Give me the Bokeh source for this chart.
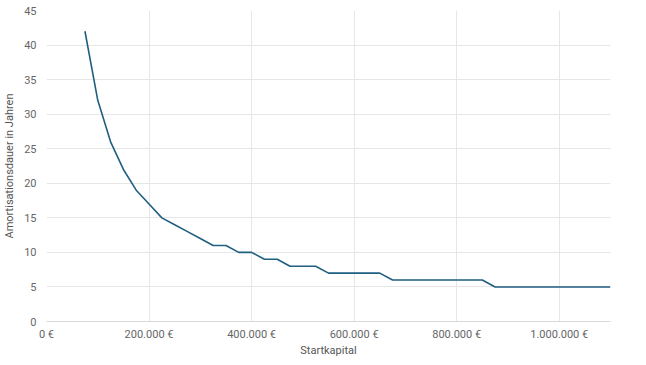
from bokeh.plotting import figure
from bokeh.models import FixedTicker, Range1d
from bokeh.embed import file_html
from bokeh.resources import INLINE

startkapital = [75000, 100000, 125000, 150000, 175000, 200000, 225000, 250000, 275000,
                300000, 325000, 350000, 375000, 400000, 425000, 450000, 475000, 500000,
                525000, 550000, 575000, 600000, 625000, 650000, 675000, 700000, 725000,
                750000, 775000, 800000, 825000, 850000, 875000, 900000, 925000, 950000,
                975000, 1000000, 1025000, 1050000, 1075000, 1100000]
dauer = [42, 32, 26, 22, 19, 17, 15, 14, 13,
         12, 11, 11, 10, 10, 9, 9, 8, 8,
         8, 7, 7, 7, 7, 7, 6, 6, 6,
         6, 6, 6, 6, 6, 5, 5, 5, 5,
         5, 5, 5, 5, 5, 5]
x_ticks = [0, 200000, 400000, 600000, 800000, 1000000]
x_tick_labels = ["0 €", "200.000 €", "400.000 €", "600.000 €", "800.000 €", "1.000.000 €"]
y_ticks = [0, 5, 10, 15, 20, 25, 30, 35, 40, 45]

p = figure(width=646, height=365, output_backend="svg", toolbar_location=None,
           x_range=Range1d(0, 1100000), y_range=Range1d(0, 45),
           min_border_left=10, min_border_right=36, min_border_top=10, min_border_bottom=44)
p.outline_line_color = None
p.background_fill_color = "white"

p.line(startkapital, dauer, line_color="#1f5f80", line_width=1.6)

font = "Roboto"
for ax in (p.xaxis[0], p.yaxis[0]):
    ax.major_tick_line_color = None
    ax.minor_tick_line_color = None
    ax.major_label_text_font = font
    ax.major_label_text_font_size = "11px"
    ax.major_label_text_color = "#666666"
    ax.axis_label_text_font = font
    ax.axis_label_text_font_size = "11px"
    ax.axis_label_text_font_style = "normal"
    ax.axis_label_text_color = "#555555"

p.xaxis.ticker = FixedTicker(ticks=x_ticks)
p.xaxis.major_label_overrides = dict(zip(x_ticks, x_tick_labels))
p.xaxis.axis_label = "Startkapital"
p.xaxis.axis_line_color = "#d9d9d9"
p.xaxis.major_label_standoff = 0
p.xaxis.axis_label_standoff = 0

p.yaxis.ticker = FixedTicker(ticks=y_ticks)
p.yaxis.axis_label = "Amortisationsdauer in Jahren"
p.yaxis.axis_line_color = None
p.yaxis.major_label_standoff = 4
p.yaxis.axis_label_standoff = 5

p.xgrid.ticker = FixedTicker(ticks=x_ticks)
p.grid.grid_line_color = "#e6e6e6"
p.grid.grid_line_width = 1

open("out.html", "w").write(file_html(p, INLINE))
